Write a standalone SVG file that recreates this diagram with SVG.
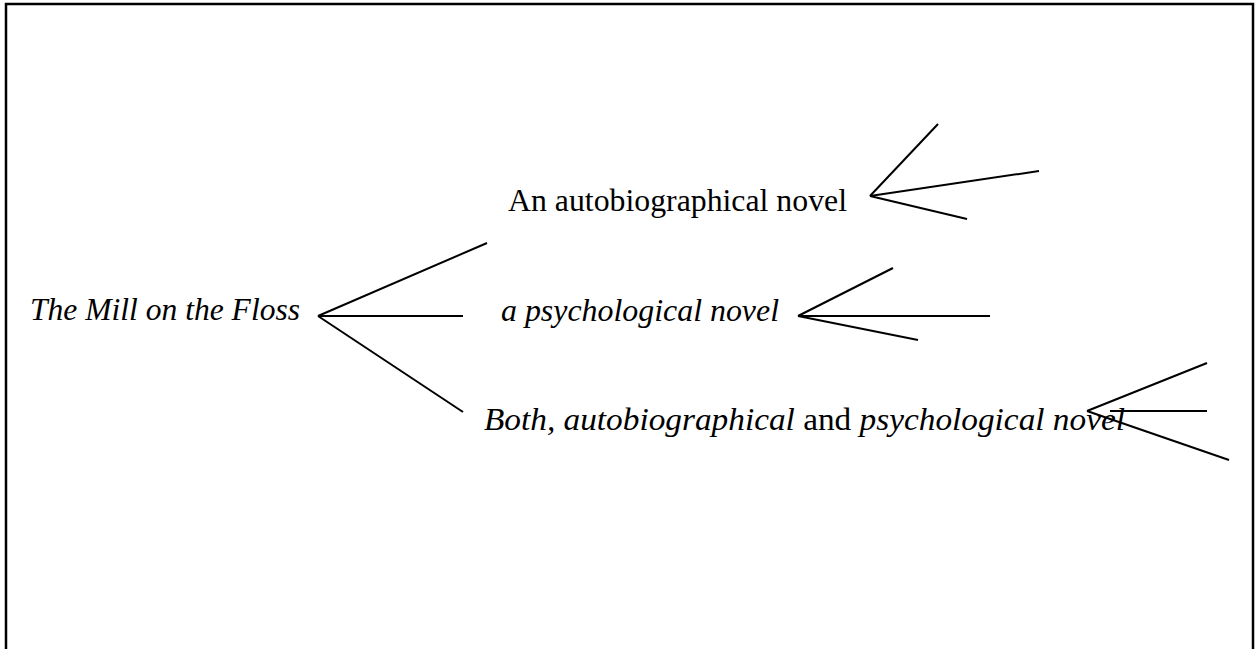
<svg xmlns="http://www.w3.org/2000/svg" width="1260" height="649" viewBox="0 0 1260 649">
<style>
.t{font-family:"Liberation Serif","Times New Roman",serif;font-size:31px;fill:#000}
.i{font-style:italic}
.c line{stroke:#000;stroke-width:2;fill:none}
</style>
<rect x="0" y="0" width="1260" height="649" fill="#fff"/>
<rect x="6" y="4" width="1247" height="700" fill="none" stroke="#000" stroke-width="2.5"/>
<g id="node-root"><text class="t i" x="30" y="320" textLength="270" lengthAdjust="spacingAndGlyphs">The Mill on the Floss</text></g>
<g id="node-auto"><text class="t" x="508" y="211" textLength="339" lengthAdjust="spacingAndGlyphs">An autobiographical novel</text></g>
<g id="node-psych"><text class="t i" x="501" y="321" textLength="278" lengthAdjust="spacingAndGlyphs">a psychological novel</text></g>
<g id="node-both"><text class="t" x="484" y="430" textLength="641" lengthAdjust="spacingAndGlyphs"><tspan class="i">Both, autobiographical</tspan> and <tspan class="i">psychological novel</tspan></text></g>
<g id="connectors" class="c">
<line x1="318" y1="316" x2="487" y2="243"/>
<line x1="318" y1="316" x2="463" y2="316"/>
<line x1="318" y1="316" x2="463" y2="412"/>
<line x1="870" y1="196" x2="938" y2="124"/>
<line x1="870" y1="196" x2="1039" y2="171"/>
<line x1="870" y1="196" x2="967" y2="219"/>
<line x1="798" y1="316" x2="893" y2="268"/>
<line x1="798" y1="316" x2="990" y2="316"/>
<line x1="798" y1="316" x2="918" y2="340"/>
<line x1="1087" y1="411" x2="1207" y2="363"/>
<line x1="1110" y1="411" x2="1207" y2="411"/>
<line x1="1087" y1="411" x2="1229" y2="460"/>
</g>
</svg>
